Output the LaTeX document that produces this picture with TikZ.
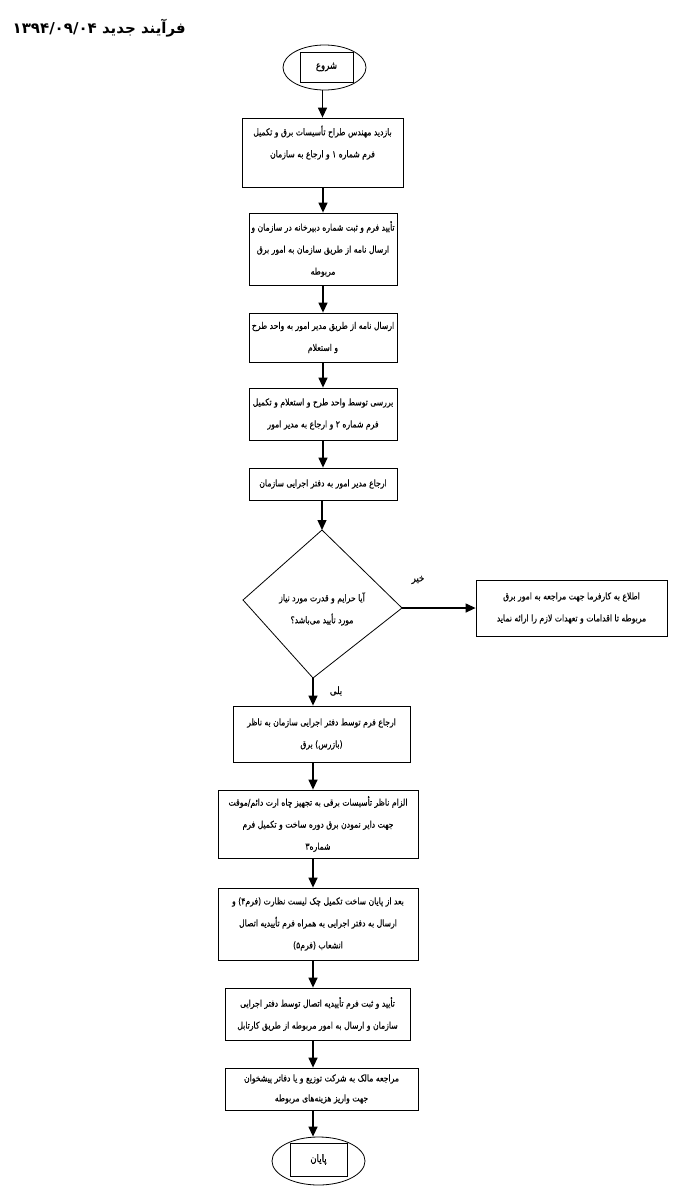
\documentclass[tikz,border=0pt]{standalone}
\usepackage{fontspec}
\TeXXeTstate=1
\newfontfamily\arabicfont[Script=Arabic,FakeStretch=0.82,FakeBold=0.15]{DejaVu Sans}
\newfontfamily\titlefont[Script=Arabic]{DejaVu Sans}
\usetikzlibrary{shapes.geometric,arrows.meta}
\newcommand\fal[1]{\beginR#1\endR}
\begin{document}
\begin{tikzpicture}[x=1pt,y=-1pt,
  box/.style={draw, line width=0.8pt, align=center, inner sep=0pt,
    font=\arabicfont\fontsize{9.4}{22}\selectfont},
  term/.style={draw, ellipse, line width=0.8pt, inner sep=0pt},
  innerbox/.style={draw, line width=0.8pt, inner sep=0pt,
    font=\arabicfont\fontsize{10.5}{12}\selectfont},
  arr/.style={-{Triangle[width=9pt,length=10pt]}, line width=1.3pt},
  lbl/.style={font=\arabicfont\fontsize{10.5}{12}\selectfont, inner sep=0pt}]
\useasboundingbox (0,0) rectangle (687,1200);
\fill[white] (0,0) rectangle (687,1200);

\node[anchor=east, inner sep=0pt, font=\titlefont\bfseries\fontsize{15}{17}\selectfont] (title) at (186,28)
  {\fal{فرآیند جدید \beginL۱۳۹۴/۰۹/۰۴\endL}};

% start
\node[term, minimum width=83pt, minimum height=45pt] (start) at (324.5,67.5) {};
\node[innerbox, minimum width=53pt, minimum height=30pt] (starttxt) at (326.5,67) {\fal{شروع}};

\node[box, minimum width=161pt, minimum height=69pt] (b1) at (322.5,152.5)
  {\fal{بازدید مهندس طراح تأسیسات برق و تکمیل}\\\fal{فرم شماره ۱ و ارجاع به سازمان}\\\mbox{}};
\node[box, minimum width=148pt, minimum height=72pt] (b2) at (323,249)
  {\fal{تأیید فرم و ثبت شماره دبیرخانه در سازمان و}\\\fal{ارسال نامه از طریق سازمان به امور برق}\\\fal{مربوطه}};
\node[box, minimum width=148pt, minimum height=49pt] (b3) at (323,337.5)
  {\fal{ارسال نامه از طریق مدیر امور به واحد طرح}\\\fal{و استعلام}};
\node[box, minimum width=148pt, minimum height=52pt] (b4) at (323,414)
  {\fal{بررسی توسط واحد طرح و استعلام و تکمیل}\\\fal{فرم شماره ۲ و ارجاع به مدیر امور}};
\node[box, minimum width=148pt, minimum height=32pt] (b5) at (323,484)
  {\fal{ارجاع مدیر امور به دفتر اجرایی سازمان}};

% decision
\coordinate (dtop) at (322,530);
\coordinate (dright) at (402,608);
\coordinate (dbottom) at (313,678);
\coordinate (dleft) at (243,600);
\draw[line width=0.8pt] (dtop) -- (dright) -- (dbottom) -- (dleft) -- cycle;
\node[box, draw=none] (dtxt) at (322,609)
  {\fal{آیا حرایم و قدرت مورد نیاز}\\\fal{مورد تأیید می‌باشد؟}};
\node[lbl] (no) at (418,580) {\fal{خیر}};
\node[lbl] (yes) at (336,691) {\fal{بلی}};

\node[box, minimum width=191pt, minimum height=56pt] (side) at (571.5,608)
  {\fal{اطلاع به کارفرما جهت مراجعه به امور برق}\\\fal{مربوطه تا اقدامات و تعهدات لازم را ارائه نماید}};

\coordinate (col) at (313,0);
\node[box, minimum width=177pt, minimum height=56pt] (b6) at (321.5,734)
  {\fal{ارجاع فرم توسط دفتر اجرایی سازمان به ناظر}\\\fal{(بازرس) برق}};
\node[box, minimum width=200pt, minimum height=68pt] (b7) at (318,824)
  {\fal{الزام ناظر تأسیسات برقی به تجهیز چاه ارت دائم/موقت}\\\fal{جهت دایر نمودن برق دوره ساخت و تکمیل فرم}\\\fal{شماره۳}};
\node[box, minimum width=200pt, minimum height=72pt] (b8) at (318,924)
  {\fal{بعد از پایان ساخت تکمیل چک لیست نظارت (فرم۴) و}\\\fal{ارسال به دفتر اجرایی به همراه فرم تأییدیه اتصال}\\\fal{انشعاب (فرم۵)}};
\node[box, minimum width=185pt, minimum height=52pt] (b9) at (317.5,1014)
  {\fal{تأیید و ثبت فرم تأییدیه اتصال توسط دفتر اجرایی}\\\fal{سازمان و ارسال به امور مربوطه از طریق کارتابل}};
\node[box, minimum width=193pt, minimum height=42pt, font=\arabicfont\fontsize{9.4}{20}\selectfont] (b10) at (321.5,1089)
  {\fal{مراجعه مالک به شرکت توزیع و یا دفاتر پیشخوان}\\\fal{جهت واریز هزینه‌های مربوطه}};

\node[term, minimum width=93pt, minimum height=48pt] (end) at (318.5,1161) {};
\node[innerbox, minimum width=57pt, minimum height=33pt] (endtxt) at (318.5,1159.5) {\fal{پایان}};

% connectors
\draw[arr] (b1.north |- start.south) -- (b1.north);
\draw[arr] (b1.south -| b2.north) -- (b2.north);
\draw[arr] (b2.south) -- (b3.north);
\draw[arr] (b3.south) -- (b4.north);
\draw[arr] (b4.south) -- (b5.north);
\draw[arr] (b5.south -| dtop) -- (dtop);
\draw[arr] (dright) -- (side.west);
\draw[arr] (dbottom) -- (dbottom |- b6.north);
\draw[arr] (b6.south -| col) -- (b7.north -| col);
\draw[arr] (b7.south -| col) -- (b8.north -| col);
\draw[arr] (b8.south -| col) -- (b9.north -| col);
\draw[arr] (b9.south -| col) -- (b10.north -| col);
\draw[arr] (b10.south -| col) -- (end.north -| col);
\end{tikzpicture}
\end{document}
